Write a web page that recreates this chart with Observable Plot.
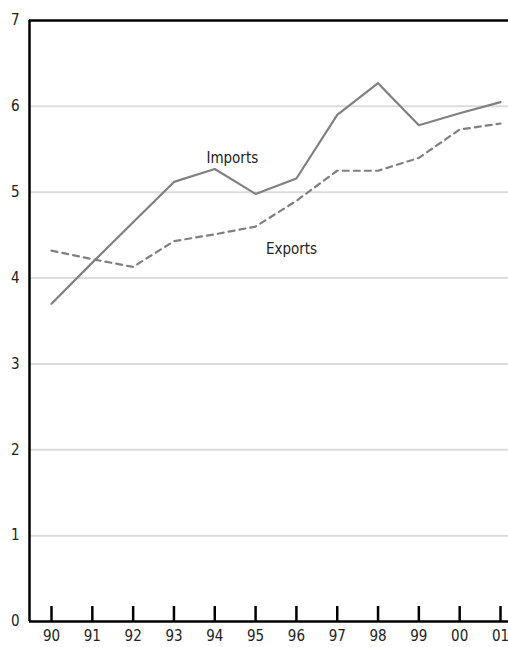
<!DOCTYPE html>
<html>
<head>
<meta charset="utf-8">
<script src="https://cdn.jsdelivr.net/npm/d3@7"></script>
<script src="https://cdn.jsdelivr.net/npm/@observablehq/plot@0.6"></script>
<style>
  html, body { margin: 0; padding: 0; background: #fff; }
  #chart svg { display: block; }
</style>
</head>
<body>
<div id="chart"></div>
<script>
const years = ["90","91","92","93","94","95","96","97","98","99","00","01"];
const imports = [3.70, 4.18, 4.65, 5.12, 5.27, 4.98, 5.16, 5.90, 6.27, 5.78, 5.92, 6.05];
const exports_ = [4.32, 4.22, 4.13, 4.43, 4.51, 4.60, 4.90, 5.25, 5.25, 5.40, 5.73, 5.80];
const yTicks = [0, 1, 2, 3, 4, 5, 6, 7];
const gridTicks = [1, 2, 3, 4, 5, 6];
const labels = [
  {name: "Imports", i: 4.43, v: 5.40},
  {name: "Exports", i: 5.88, v: 4.34}
];

const idx = years.map((d, i) => i);
const impData = idx.map(i => ({i, v: imports[i]}));
const expData = idx.map(i => ({i, v: exports_[i]}));
const xDomain = [-0.539, 11.196];

const font = "'Liberation Sans Narrow', 'DejaVu Sans Condensed', 'Open Sans', sans-serif";

const chart = Plot.plot({
  width: 508,
  height: 647,
  marginTop: 20,
  marginBottom: 26,
  marginLeft: 29,
  marginRight: 0,
  style: {fontFamily: font, fontSize: "15px", color: "#222", background: "#fff"},
  x: {type: "linear", domain: xDomain},
  y: {domain: [0, 7]},
  marks: [
    Plot.ruleY(gridTicks, {stroke: "#dcdcdc", strokeWidth: 2}),
    Plot.line(expData, {x: "i", y: "v", stroke: "#808080", strokeWidth: 2.2, strokeDasharray: "6,5"}),
    Plot.line(impData, {x: "i", y: "v", stroke: "#808080", strokeWidth: 2.2}),
    Plot.ruleY([0, 7], {stroke: "#000", strokeWidth: 2.5}),
    Plot.ruleX([xDomain[0]], {y1: 0, y2: 7, stroke: "#000", strokeWidth: 2.5}),
    Plot.ruleX(idx, {x: d => d, y1: 0, y2: 0.175, stroke: "#000", strokeWidth: 2.5}),
    Plot.axisY(yTicks, {tickSize: 0, tickPadding: 10, fontSize: 15, label: null, tickFormat: d => String(d)}),
    Plot.axisX(idx, {tickSize: 0, tickPadding: 9, fontSize: 15, label: null, tickFormat: i => years[i]}),
    Plot.text(labels, {x: "i", y: "v", text: "name", fontSize: 15, fill: "#222"})
  ]
});
document.getElementById("chart").appendChild(chart);
</script>
</body>
</html>
